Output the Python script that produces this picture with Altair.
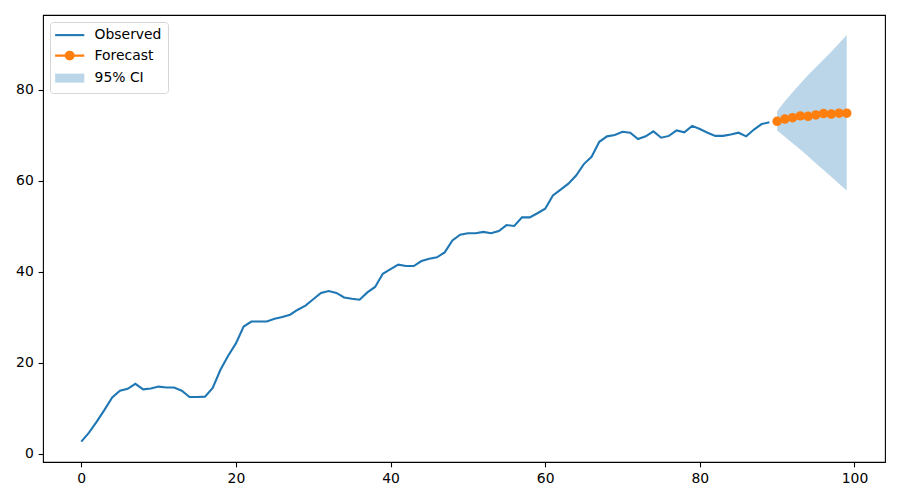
import altair as alt
import pandas as pd

# ---- data ----
obs_t = list(range(0, 90))
obs_v = [2.7, 4.7, 7.1, 9.7, 12.4, 13.9, 14.3, 15.4, 14.2, 14.4,
         14.8, 14.6, 14.6, 13.9, 12.5, 12.5, 12.6, 14.5, 18.5, 21.6,
         24.3, 28.0, 29.1, 29.1, 29.1, 29.7, 30.1, 30.6, 31.7, 32.6,
         34.0, 35.4, 35.8, 35.4, 34.4, 34.1, 33.9, 35.5, 36.7, 39.6,
         40.6, 41.6, 41.3, 41.3, 42.4, 42.9, 43.2, 44.3, 46.9, 48.2,
         48.5, 48.5, 48.8, 48.5, 49.0, 50.3, 50.1, 52.0, 52.0, 52.9,
         53.9, 56.8, 58.1, 59.4, 61.2, 63.7, 65.3, 68.6, 69.8, 70.1,
         70.8, 70.6, 69.2, 69.8, 70.9, 69.5, 69.9, 71.1, 70.7, 72.1,
         71.4, 70.6, 69.9, 69.9, 70.2, 70.6, 69.8, 71.3, 72.5, 72.9]

fc_t = list(range(90, 100))
fc_v = [73.1, 73.6, 73.9, 74.3, 74.2, 74.5, 74.8, 74.7, 74.9, 74.9]
ci_lo = [71.1, 69.7, 68.3, 66.9, 65.4, 63.9, 62.4, 60.9, 59.4, 57.9]
ci_hi = [75.3, 77.5, 79.5, 81.4, 83.3, 85.0, 86.7, 88.4, 90.2, 92.1]

series_names = ["Observed", "Forecast", "95% CI"]

obs_df = pd.DataFrame({"t": obs_t, "v": obs_v})
fc_df = pd.DataFrame({"t": fc_t, "v": fc_v})
ci_df = pd.DataFrame({"t": fc_t, "lo": ci_lo, "hi": ci_hi})
leg_df = pd.DataFrame({"series": series_names})

BLUE = "#1f77b4"
ORANGE = "#ff7f0e"
LW = 2.08

xs = alt.Scale(domain=[-4.95, 103.95], nice=False, zero=False)
ys = alt.Scale(domain=[-1.77, 96.47], nice=False, zero=False)
xax = alt.Axis(values=[0, 20, 40, 60, 80, 100], title=None, labelFlush=False)
yax = alt.Axis(values=[0, 20, 40, 60, 80], title=None)

band = alt.Chart(ci_df).mark_area(color=BLUE, opacity=0.3).encode(
    x=alt.X("t:Q", scale=xs, axis=xax),
    y=alt.Y("lo:Q", scale=ys, axis=yax),
    y2="hi:Q",
)

obs = alt.Chart(obs_df).mark_line(color=BLUE, strokeWidth=LW).encode(
    x=alt.X("t:Q", scale=xs, axis=xax),
    y=alt.Y("v:Q", scale=ys, axis=yax),
)

fc = alt.Chart(fc_df).mark_line(
    color=ORANGE, strokeWidth=LW,
    point=alt.OverlayMarkDef(filled=True, size=90, color=ORANGE),
).encode(
    x=alt.X("t:Q", scale=xs, axis=xax),
    y=alt.Y("v:Q", scale=ys, axis=yax),
)

# legend-only layer (invisible marks)
path_line = "M-1.33,0H3.53"
path_fc = "M-1.33,0H3.53M1.75,0A0.65,0.65 0 1,1 0.45,0A0.65,0.65 0 1,1 1.75,0Z"
path_ci = "M-1.33,-0.75H3.53V0.75H-1.33Z"

leg = alt.Chart(leg_df).mark_point(strokeWidth=LW).encode(
    fill=alt.Fill("series:N",
                  scale=alt.Scale(domain=series_names,
                                  range=["transparent", ORANGE, "rgba(31,119,180,0.3)"]),
                  legend=alt.Legend(title=None)),
    stroke=alt.Stroke("series:N",
                      scale=alt.Scale(domain=series_names,
                                      range=[BLUE, ORANGE, "transparent"]),
                      legend=alt.Legend(title=None)),
    shape=alt.Shape("series:N",
                    scale=alt.Scale(domain=series_names,
                                    range=[path_line, path_fc, path_ci]),
                    legend=alt.Legend(title=None)),
    opacity=alt.value(0),
)

chart = alt.layer(band, obs, fc, leg).properties(
    width=842, height=447,
    autosize=alt.AutoSizeParams(type="none"),
    padding={"left": 35, "top": 7, "right": 5, "bottom": 25},
).configure_view(
    stroke="black", strokeWidth=1.1
).configure_axis(
    domain=False, grid=False, tickColor="black", tickWidth=1.1, tickSize=4.86,
    labelFont="DejaVu Sans", labelFontSize=13.9, labelColor="black",
    labelPadding=4.86,
).configure_legend(
    orient="top-left", offset=7, padding=5.6, rowPadding=4.5,
    symbolSize=144, symbolStrokeWidth=LW, symbolOpacity=1,
    symbolFillColor="transparent",
    labelFont="DejaVu Sans", labelFontSize=13.9, labelColor="black",
    labelOffset=24.0, strokeColor="#d6d6d6", fillColor="white", cornerRadius=3,
)

chart.save("out.html", embed_options={"renderer": "svg", "actions": False})
